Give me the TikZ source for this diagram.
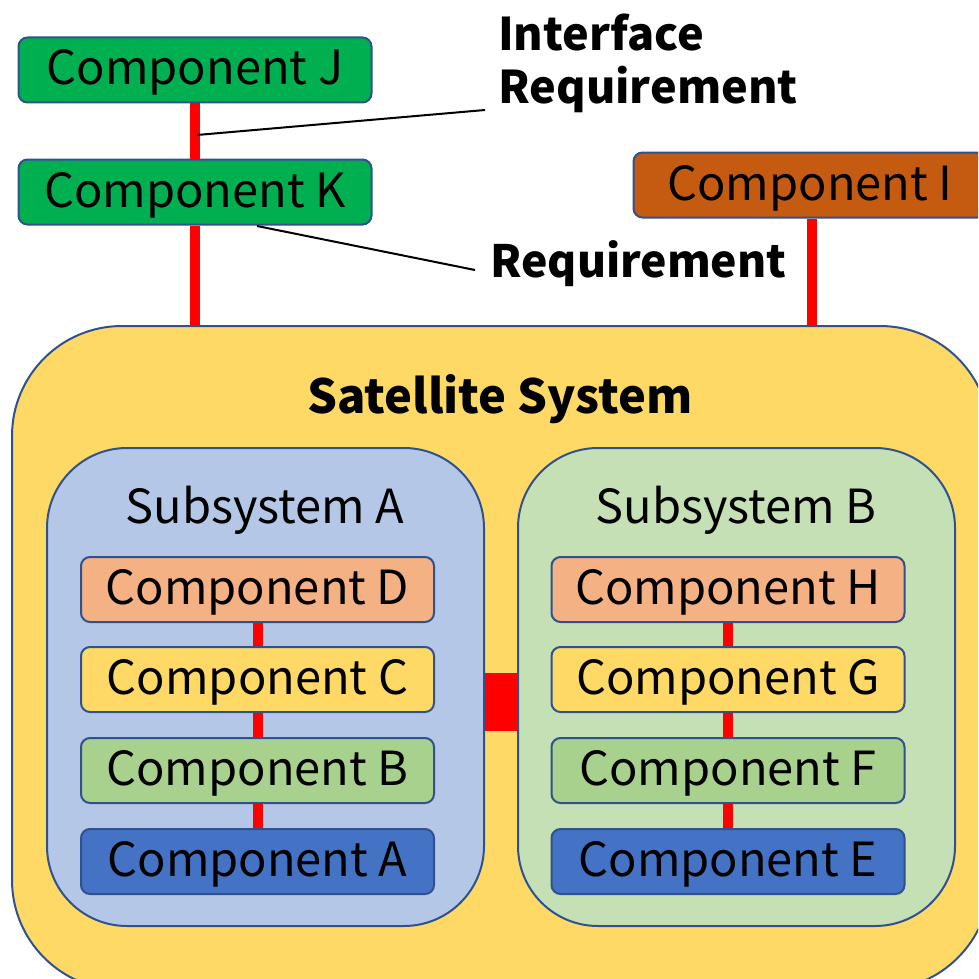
\documentclass[tikz,border=0pt]{standalone}
\usepackage{fontspec}
\setmainfont{Noto Sans CJK JP}
\usetikzlibrary{positioning,calc}
\definecolor{edge}{HTML}{2F528F}
\definecolor{grass}{HTML}{00B050}
\definecolor{rust}{HTML}{C55A11}
\definecolor{sun}{HTML}{FFD966}
\definecolor{sky}{HTML}{B4C7E7}
\definecolor{mint}{HTML}{C5E0B4}
\definecolor{peach}{HTML}{F4B183}
\definecolor{moss}{HTML}{A9D18E}
\definecolor{navy}{HTML}{4472C4}
\tikzset{
  comp/.style={draw=edge,line width=2pt,rounded corners=9pt,minimum width=353pt,
    minimum height=65pt,inner sep=0pt,text height=36pt,text depth=6pt,
    font=\fontsize{47}{50}\selectfont},
  subsys/.style={draw=edge,line width=2pt,rounded corners=80pt,minimum width=437pt,
    minimum height=478pt,inner sep=0pt},
  title/.style={inner sep=0pt,anchor=base,font=\fontsize{47}{50}\selectfont},
  link/.style={draw=red,line width=10pt},
  leader/.style={draw=black,line width=2pt},
  tag/.style={inner sep=0pt,align=left,font=\fontsize{45}{53}\selectfont\bfseries}
}

\begin{document}
\begin{tikzpicture}[x=1pt,y=-1pt]
        \useasboundingbox (0,0) rectangle (978,979);
        \clip (0,0) rectangle (978,979);
        \node[comp,fill=grass] (J) at (195,70) {Component J};
        \node[comp,fill=grass] (K) at (195,192) {Component K};
        \node[comp,fill=rust] (I) at (810,185) {Component I};
        \node[draw=edge,line width=2pt,fill=sun,rounded corners=110pt,minimum width=978pt,
          minimum height=664pt] (sat) at (501,658) {};
        \node[title,font=\fontsize{47}{50}\selectfont\bfseries] (sattitle) at (500,413) {Satellite System};
        \draw[red,line width=58pt] (484,702) -- (518,702);
        \node[subsys,fill=sky] (subA) at (265.5,687) {};
        \node[subsys,fill=mint] (subB) at (736.5,687) {};
        \node[title] (subAtitle) at (265,523) {Subsystem A};
        \node[title] (subBtitle) at (736,523) {Subsystem B};
        \node[comp,fill=peach] (D) at (257.5,589.5) {Component D};
        \node[comp,fill=sun] (C) at (257.5,679.5) {Component C};
        \node[comp,fill=moss] (B) at (257.5,770.5) {Component B};
        \node[comp,fill=navy] (A) at (257.5,861.5) {Component A};
        \node[comp,fill=peach] (H) at (728,589.5) {Component H};
        \node[comp,fill=sun] (G) at (728,679.5) {Component G};
        \node[comp,fill=moss] (F) at (728,770.5) {Component F};
        \node[comp,fill=navy] (E) at (728,861.5) {Component E};
        \draw[link] (J) -- (K);
        \draw[link] (K) -- (K |- sat.north);
        \draw[link] ([xshift=2pt]I.south) -- ([xshift=2pt]I.south |- sat.north);
        \foreach \u/\v in {D/C,C/B,B/A,H/G,G/F,F/E}
          \draw[link] (\u) -- (\v);
        \node[tag,anchor=north west] (ifreq) at (498,14) {Interface\\Requirement};
        \node[tag,anchor=base west,font=\fontsize{44.5}{53}\selectfont\bfseries] (req) at (490,277) {Requirement};
        \coordinate (ifpt) at (197,135);
        \coordinate (ifend) at (485,110);
        \coordinate (reqpt) at (257,226);
        \coordinate (reqend) at (475,270);
        \draw[leader] (ifpt) -- (ifend);
        \draw[leader] (reqpt) -- (reqend);
      \end{tikzpicture}
\end{document}
